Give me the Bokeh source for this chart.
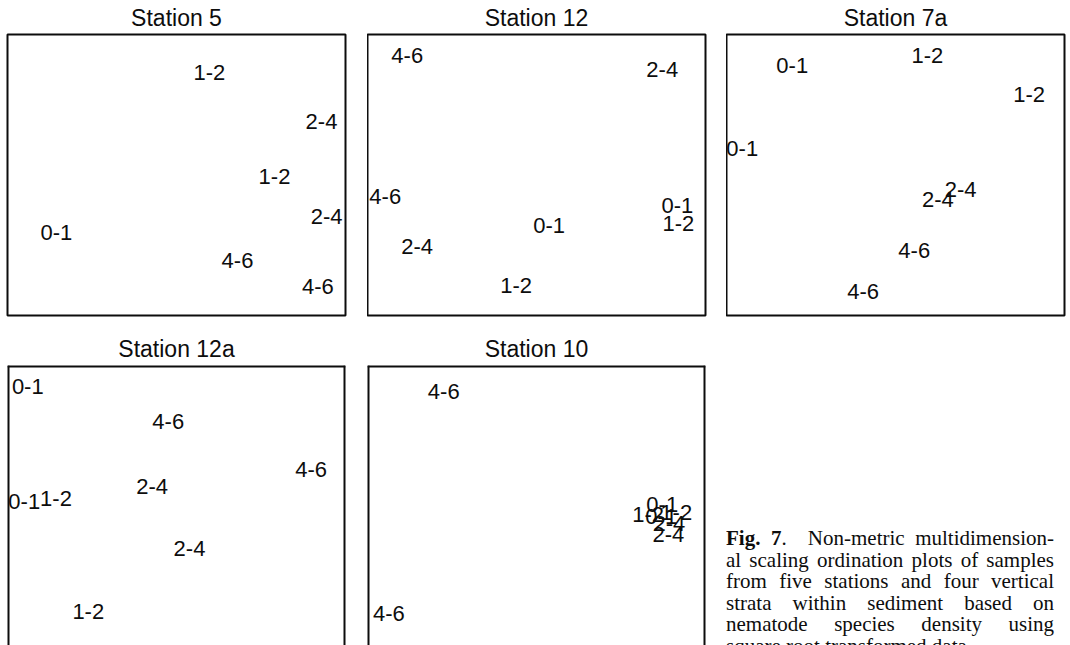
from bokeh.plotting import figure
from bokeh.models import Range1d, ColumnDataSource, Div, Span
from bokeh.layouts import row, column
from bokeh.embed import file_html
from bokeh.resources import INLINE
from bokeh.core.properties import value

# ---- data: MDS ordination coordinates (arbitrary units) ----
st5_labels = ["1-2", "2-4", "1-2", "2-4", "0-1", "4-6", "4-6"]
st5_x = [0.195, 0.858, 0.580, 0.888, -0.711, 0.361, 0.837]
st5_y = [0.726, 0.383, -0.009, -0.295, -0.411, -0.609, -0.791]

st12_labels = ["4-6", "2-4", "4-6", "0-1", "1-2", "0-1", "2-4", "1-2"]
st12_x = [-0.765, 0.744, -0.895, 0.834, 0.840, 0.075, -0.706, -0.121]
st12_y = [0.849, 0.753, -0.154, -0.220, -0.343, -0.358, -0.509, -0.786]

st7a_labels = ["0-1", "1-2", "1-2", "0-1", "2-4", "2-4", "4-6", "4-6"]
st7a_x = [-0.611, 0.189, 0.791, -0.907, 0.385, 0.251, 0.111, -0.192]
st7a_y = [0.780, 0.851, 0.575, 0.187, -0.101, -0.173, -0.536, -0.830]

st12a_labels = ["0-1", "4-6", "4-6", "2-4", "0-1", "1-2", "2-4", "1-2"]
st12a_x = [-0.880, -0.049, 0.797, -0.144, -0.901, -0.713, 0.077, -0.522]
st12a_y = [0.848, 0.598, 0.258, 0.139, 0.035, 0.050, -0.300, -0.751]

st10_labels = ["4-6", "4-6", "0-1", "1-2", "0-1", "1-2", "2-4", "2-4"]
st10_x = [-0.549, -0.874, 0.744, 0.661, 0.738, 0.827, 0.786, 0.780]
st10_y = [0.816, -0.762, 0.011, -0.060, -0.075, -0.046, -0.125, -0.203]

titles = ["Station 5", "Station 12", "Station 7a", "Station 12a", "Station 10"]

caption_lines = [
    "<b>Fig. 7</b>.&nbsp; Non-metric multidimension-",
    "al scaling ordination plots of samples",
    "from five stations and four vertical",
    "strata within sediment based on",
    "nematode species density using",
    "square root transformed data.",
]

INK = "#0d0d0d"


def panel(title, labels, xs, ys, width, height, mb_left, mb_right, mb_top, mb_bottom,
          y_lo, open_bottom=False):
    p = figure(width=width, height=height, output_backend="svg", toolbar_location=None,
               x_range=Range1d(-1, 1), y_range=Range1d(y_lo, 1),
               x_axis_type=None, y_axis_type=None,
               min_border_left=mb_left, min_border_right=mb_right,
               min_border_top=mb_top, min_border_bottom=mb_bottom,
               background_fill_color="white", border_fill_color="white")
    p.grid.visible = False
    if open_bottom:
        # frame continues below the visible area: draw only left, right and top edges
        p.outline_line_color = None
        for loc, dim in ((-1, "height"), (1, "height"), (1, "width")):
            p.add_layout(Span(location=loc, dimension=dim, line_color=INK, line_width=4))
    else:
        p.outline_line_color = INK
        p.outline_line_width = 2
    p.title.text = title
    p.title.text_font = "Liberation Sans"
    p.title.text_font_size = "23px"
    p.title.text_font_style = "normal"
    p.title.text_color = INK
    p.title.align = "center"
    p.title.vertical_align = "middle"
    p.title.standoff = 6
    src = ColumnDataSource(dict(x=xs, y=ys, label=labels))
    p.text(x="x", y="y", text="label", source=src,
           text_font=value("Liberation Sans"), text_font_size="22px",
           text_align="center", text_baseline="middle", text_color=INK)
    return p


TOP_H = 331
BOT_H = 314

p1 = panel(titles[0], st5_labels, st5_x, st5_y, 367, TOP_H, 7, 22, 34, 16, -1)
p2 = panel(titles[1], st12_labels, st12_x, st12_y, 359, TOP_H, 0, 21, 34, 16, -1)
p3 = panel(titles[2], st7a_labels, st7a_x, st7a_y, 342, TOP_H, 0, 4, 34, 16, -1)
p4 = panel(titles[3], st12a_labels, st12a_x, st12a_y, 367, BOT_H, 7, 22, 34, 0, -0.993, True)
p5 = panel(titles[4], st10_labels, st10_x, st10_y, 354, BOT_H, 0, 16, 34, 0, -0.993, True)

line_divs = []
for i, ln in enumerate(caption_lines):
    align = "text-align:justify;text-align-last:justify;" if i < len(caption_lines) - 1 else "text-align:left;"
    line_divs.append(f'<div style="{align}">{ln}</div>')
html = ('<div style="font-family:\'Liberation Serif\';font-size:21px;line-height:21.6px;'
        'color:#0d0d0d;padding-top:192px;width:328px;">' + "".join(line_divs) + "</div>")
cap = Div(text=html, width=334, height=BOT_H, styles={"overflow": "hidden"})

layout = column(row(p1, p2, p3), row(p4, p5, cap))

with open("out.html", "w") as f:
    f.write(file_html(layout, INLINE))
